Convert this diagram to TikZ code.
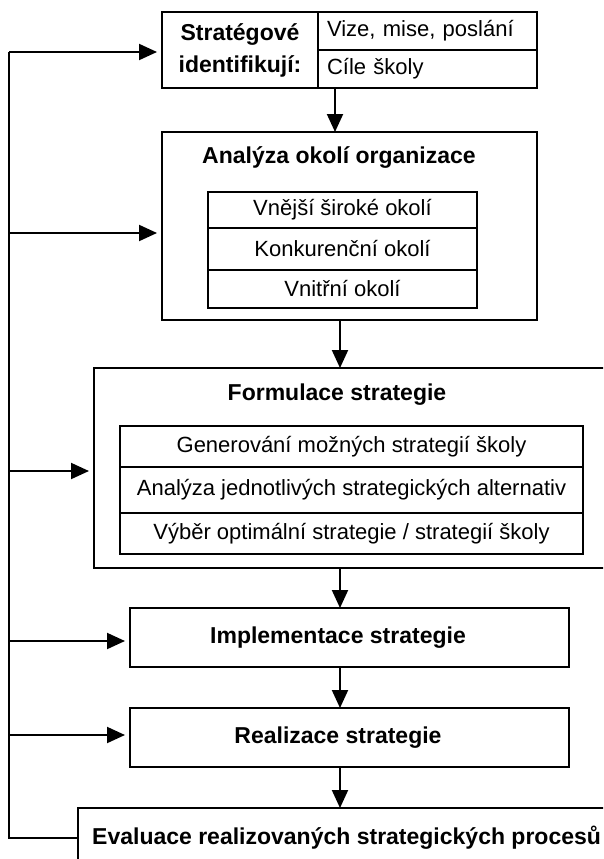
\documentclass[tikz,border=0pt]{standalone}
\usepackage{fontspec}
\setmainfont{Liberation Sans}
\usetikzlibrary{arrows.meta}
\tikzset{
  frame/.style={draw, line width=2pt, rectangle, inner sep=0pt, outer sep=0pt},
  cell/.style={frame, font=\fontsize{22}{26}\selectfont},
  heading/.style={font=\bfseries\fontsize{23}{29}\selectfont, inner sep=0pt},
  wire/.style={line width=2pt},
  flow/.style={wire, -{Triangle[length=18pt,width=16pt]}},
  feed/.style={flow, shorten >=5pt},
}
\begin{document}
\begin{tikzpicture}[x=1pt,y=-1pt]
\useasboundingbox (0,0) rectangle (603,859);
\fill[white] (0,0) rectangle (603,859);
\begin{scope}
\clip (0,0) rectangle (603,859);

% identification block
\node[frame, anchor=north west, minimum width=156, minimum height=76, align=center,
      font=\bfseries\fontsize{23}{32}\selectfont] (ident) at (162,12) {Stratégové\\identifikují:};
\node[cell, anchor=north west, minimum height=38, text width=201, align=left, inner xsep=9pt]
      (vize) at (318,12) {Vize, mise, poslání};
\node[cell, anchor=north west, minimum height=38, text width=201, align=left, inner xsep=9pt]
      (cile) at (vize.south west) {Cíle školy};

% environment analysis
\node[frame, anchor=north west, minimum width=375, minimum height=188] (okoli) at (162,132) {};
\node[heading] (okolititle) at (339,158) {Analýza okolí organizace};
\node[cell, anchor=north west, minimum width=269, minimum height=36] (vnejsi) at (208,192) {Vnější široké okolí};
\node[cell, anchor=north west, minimum width=269, minimum height=42] (konk) at (vnejsi.south west) {Konkurenční okolí};
\node[cell, anchor=north west, minimum width=269, minimum height=38] (vnitr) at (konk.south west) {Vnitřní okolí};

% strategy formulation
\node[frame, anchor=north west, minimum width=540, minimum height=200] (formul) at (94,368) {};
\node[heading] (formultitle) at (337,395) {Formulace strategie};
\node[cell, anchor=north west, minimum width=463, minimum height=41] (gen) at (120,426) {Generování možných strategií školy};
\node[cell, anchor=north west, minimum width=463, minimum height=46] (alt) at (gen.south west) {Analýza jednotlivých strategických alternativ};
\node[cell, anchor=north west, minimum width=463, minimum height=41] (vyber) at (alt.south west) {Výběr optimální strategie / strategií školy};

% implementation, realisation, evaluation
\node[frame, anchor=north west, minimum width=439, minimum height=59] (impl) at (130,608) {};
\node[heading] (impltext) at (338,638) {Implementace strategie};
\node[frame, anchor=north west, minimum width=439, minimum height=59] (real) at (130,708) {};
\node[heading] (realtext) at (338,738) {Realizace strategie};
\node[frame, anchor=north west, minimum width=560, minimum height=100] (eval) at (78,808) {};
\node[heading, anchor=west] (evaltext) at (92,838) {Evaluace realizovaných strategických procesů};

% main flow
\coordinate (colA) at (335,0);
\coordinate (colB) at (340,0);
\draw[flow] (cile.south -| colA) -- (okoli.north -| colA);
\draw[flow] (okoli.south -| colB) -- (formul.north -| colB);
\draw[flow] (formul.south -| colB) -- (impl.north -| colB);
\draw[flow] (impl.south -| colB) -- (real.north -| colB);
\draw[flow] (real.south -| colB) -- (eval.north -| colB);

% feedback loop
\coordinate (fbtop) at (9,52);
\coordinate (fbbot) at (9,838);
\coordinate (fb2) at (9,233);
\coordinate (fb3) at (9,471);
\coordinate (fb4) at (9,641);
\coordinate (fb5) at (9,735);
\draw[wire] (eval.north west |- fbbot) -- (fbbot) -- (fbtop);
\draw[feed] (fbtop) -- (fbtop -| ident.west);
\draw[feed] (fb2) -- (fb2 -| okoli.west);
\draw[feed] (fb3) -- (fb3 -| formul.west);
\draw[feed] (fb4) -- (fb4 -| impl.west);
\draw[feed] (fb5) -- (fb5 -| real.west);
\end{scope}
\end{tikzpicture}
\end{document}
